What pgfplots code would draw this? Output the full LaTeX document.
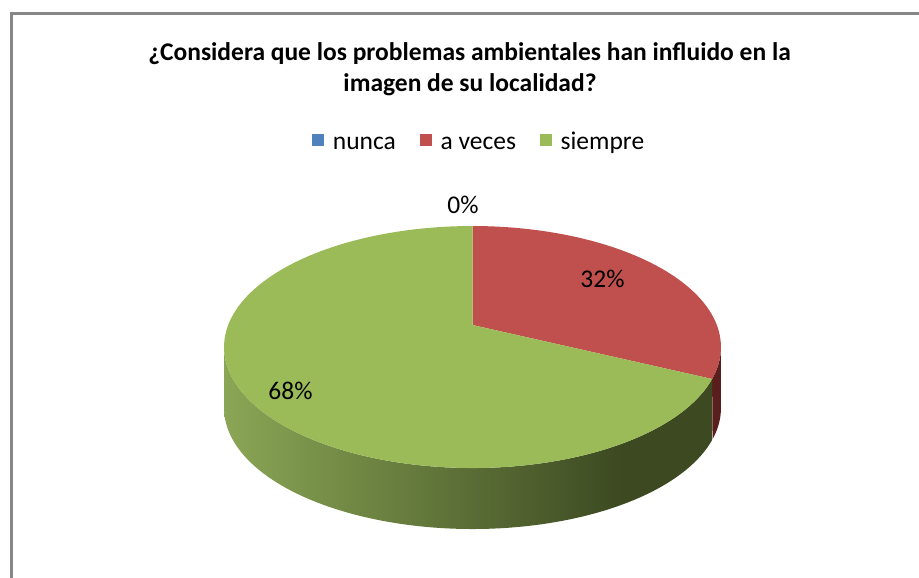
\documentclass[border=0pt]{standalone}
\usepackage{fontspec}
\setmainfont{Carlito}
\usepackage{pgfplots}
\usepackage{pgfplotstable}
\pgfplotsset{compat=1.18}

\definecolor{cNunca}{HTML}{4F81BD}
\definecolor{cVeces}{HTML}{C0504D}
\definecolor{cSiempre}{HTML}{9BBB59}
\definecolor{cVecesSide}{HTML}{5A1E1D}
\definecolor{gL}{HTML}{8AA655}
\definecolor{gD}{HTML}{3C4921}
\definecolor{frameGray}{HTML}{878787}
\pgfdeclarehorizontalshading{greenside}{100bp}{color(0bp)=(gL); color(25bp)=(gL); color(66bp)=(gD); color(100bp)=(gD)}

\pgfplotstableread[col sep=comma]{
cat,value
nunca,0
a veces,32
siempre,68
}\piedata
\pgfplotstablegetelem{0}{value}\of\piedata \let\vA\pgfplotsretval
\pgfplotstablegetelem{1}{value}\of\piedata \let\vB\pgfplotsretval
\pgfplotstablegetelem{2}{value}\of\piedata \let\vC\pgfplotsretval
% cumulative angles, clockwise from 12 o'clock
\pgfmathsetmacro\thA{0}
\pgfmathsetmacro\thB{\thA+3.6*\vA}
\pgfmathsetmacro\thC{\thB+3.6*\vB}
\pgfmathsetmacro\thD{\thC+3.6*\vC}
% visible range of the rim (perspective)
\pgfmathsetmacro\vlo{acos(-0.182)}
\pgfmathsetmacro\vhi{360-\vlo}
\pgfmathsetmacro\rLo{max(\thB,\vlo)}
\pgfmathsetmacro\rHi{min(\thC,\vhi)}
\pgfmathsetmacro\gLo{max(\thC,\vlo)}
\pgfmathsetmacro\gHi{min(\thD,\vhi)}

\newcommand\lblfont{\fontsize{25.6}{30}\selectfont}

\begin{document}
\begin{tikzpicture}[
  declare function={
    PX(\a)=472.5+244.3*sin(\a)/(1+0.182*cos(\a));
    PY(\a)=325-117*cos(\a)/(1+0.182*cos(\a));
  }]
\begin{axis}[
  at={(0,0)}, anchor=south west,
  width=919bp, height=578bp, scale only axis,
  xmin=0, xmax=919, ymin=0, ymax=578, y dir=reverse,
  hide axis, clip=false,
  legend columns=3,
  legend cell align=left,
  legend image code/.code={\fill[#1,draw=none] (0bp,-2bp) rectangle (12bp,10bp); \path (20.5bp,0bp);},
  legend style={at={(axis cs:312,156)}, anchor=south west, draw=none, fill=none,
    inner sep=0pt, nodes={inner sep=0pt, text height=17bp, text depth=6bp}, font=\lblfont,
    /tikz/every even column/.append style={column sep=24bp}},
]
\addlegendimage{fill=cNunca}
\addlegendentry{nunca}
\addlegendimage{fill=cVeces}
\addlegendentry{a veces}
\addlegendimage{fill=cSiempre}
\addlegendentry{siempre}

% sides
\addplot[draw=none, fill=cVecesSide, domain=0:2, samples=81, variable=\t, forget plot]
  ({PX(\rHi-(\rHi-\rLo)*abs(1-\t))}, {PY(\rHi-(\rHi-\rLo)*abs(1-\t))+61*(\t>1)});
\addplot[draw=none, shade, shading=greenside, domain=0:2, samples=161, variable=\t, forget plot]
  ({PX(\gHi-(\gHi-\gLo)*abs(1-\t))}, {PY(\gHi-(\gHi-\gLo)*abs(1-\t))+61*(\t>1)});

% top faces
\addplot[draw=none, fill=cVeces, domain=0:120, samples=121, variable=\t, forget plot]
  ({(\t<0.5) ? 472.5 : PX(\thB+(\thC-\thB)*(\t-1)/119)},
   {(\t<0.5) ? 325 : PY(\thB+(\thC-\thB)*(\t-1)/119)});
\addplot[draw=none, fill=cSiempre, domain=0:200, samples=201, variable=\t, forget plot]
  ({(\t<0.5) ? 472.5 : PX(\thC+(\thD-\thC)*(\t-1)/199)},
   {(\t<0.5) ? 325 : PY(\thC+(\thD-\thC)*(\t-1)/199)});

% data labels
\node[anchor=base, font=\lblfont] at (axis cs:463,213) {\vA\%};
\node[anchor=base, font=\lblfont] at (axis cs:602.5,287) {\vB\%};
\node[anchor=base, font=\lblfont] at (axis cs:290.5,399) {\vC\%};

% title
\node[anchor=base, font=\fontsize{25.6}{30}\selectfont\bfseries] at (axis cs:469.5,61) {¿Considera que los problemas ambientales han influido en la};
\node[anchor=base, font=\fontsize{25.6}{30}\selectfont\bfseries] at (axis cs:470,91.5) {imagen de su localidad?};

% chart frame
\draw[frameGray, line width=2.7bp] (axis cs:11.3,640) -- (axis cs:11.3,13.3) -- (axis cs:960,13.3);
\end{axis}
\pgfresetboundingbox
\path[use as bounding box] (0,0) rectangle (919bp,578bp);
\end{tikzpicture}
\end{document}
